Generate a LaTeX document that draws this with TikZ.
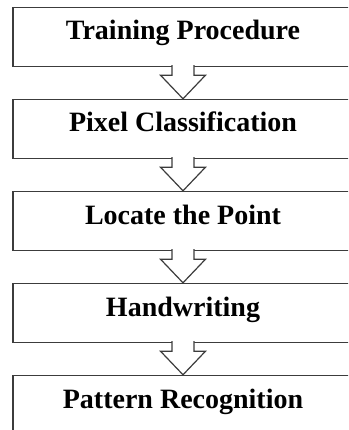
\documentclass[tikz,border=0pt]{standalone}
\usepackage{fontspec}
\setmainfont{Liberation Serif}
\usepackage{tikz}
\usetikzlibrary{shapes,arrows,calc}
\definecolor{edgegrey}{RGB}{60,60,60}
\tikzstyle{stage} = [rectangle, draw=edgegrey, line width=1.4pt, fill=white,
    minimum width=340pt, minimum height=59pt, inner sep=0pt,
    text height=19pt, text depth=13pt, font=\fontsize{28}{32}\selectfont\bfseries]
\tikzstyle{hollow} = [draw=edgegrey, line width=1.2pt, fill=white, line join=miter]

\begin{document}
\begin{tikzpicture}[x=1pt, y=1pt, node distance = 92pt, auto]
    \clip (0,0) rectangle (348,-430);
    \node[stage] at (183,-37) (train) {Training Procedure};
    \node[stage, below of=train] (pixel) {Pixel Classification};
    \node[stage, below of=pixel] (locate) {Locate the Point};
    \node[stage, below of=locate] (hand) {Handwriting};
    \node[stage, below of=hand] (pattern) {Pattern Recognition};

    % hollow block arrows between the stages
    \foreach \a/\b in {train/pixel, pixel/locate, locate/hand, hand/pattern}
        \path[hollow] ($(\a.south)+(-11,2)$) -- ($(\a.south)+(-11,-8)$)
            -- ($(\a.south)+(-22.5,-8)$) -- (\b.north)
            -- ($(\a.south)+(22.5,-8)$) -- ($(\a.south)+(11,-8)$)
            -- ($(\a.south)+(11,2)$);
  \end{tikzpicture}
\end{document}
